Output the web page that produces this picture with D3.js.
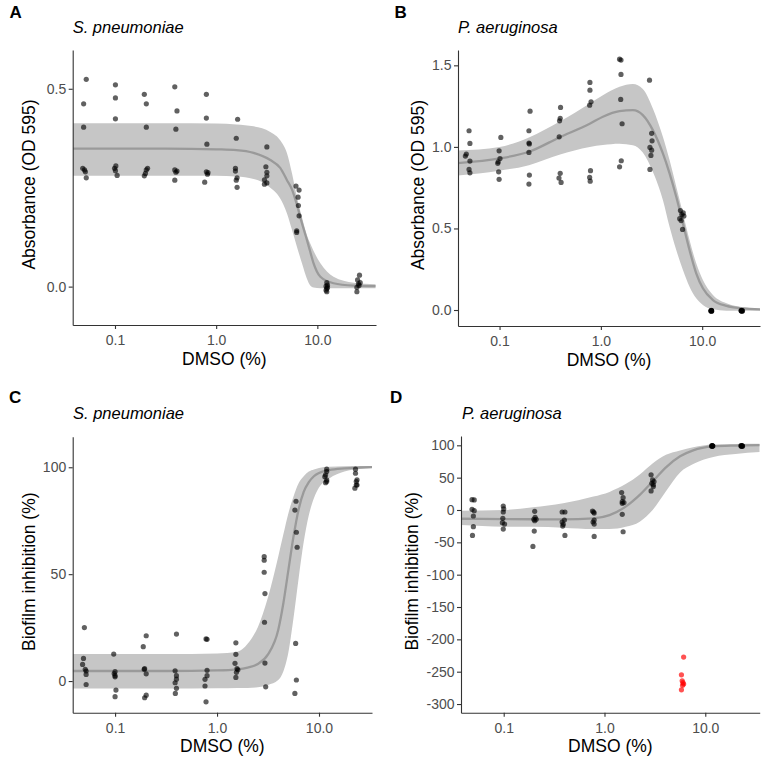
<!DOCTYPE html>
<html><head><meta charset="utf-8">
<script src="https://cdn.jsdelivr.net/npm/d3@7"></script>
<style>
body{margin:0;background:#fff}
text{font-family:"Liberation Sans",Arial,Helvetica,sans-serif}
</style>
</head><body>
<svg id="chart" width="764" height="759"></svg>
<script>
// ---------------- DATA ----------------
const xTickValues = [0.1, 1, 10];
const xTickLabels = ["0.1", "1.0", "10.0"];

const yTicksA = [0, 0.5];           const yTickLabelsA = ["0.0", "0.5"];
const yTicksB = [0, 0.5, 1, 1.5];   const yTickLabelsB = ["0.0", "0.5", "1.0", "1.5"];
const yTicksC = [0, 50, 100];       const yTickLabelsC = ["0", "50", "100"];
const yTicksD = [100, 50, 0, -50, -100, -150, -200, -250, -300];
const yTickLabelsD = ["100", "50", "0", "-50", "-100", "-150", "-200", "-250", "-300"];

const panelTags = ["A", "B", "C", "D"];
const organisms = ["S. pneumoniae", "P. aeruginosa", "S. pneumoniae", "P. aeruginosa"];
const yTitles = ["Absorbance (OD 595)", "Absorbance (OD 595)", "Biofilm inhibition (%)", "Biofilm inhibition (%)"];
const xTitle = "DMSO (%)";

// observations: [DMSO %, value]
const pointsA = [
 [0.052,0.524],[0.049,0.462],[0.049,0.403],[0.048,0.299],[0.050,0.295],[0.051,0.290],[0.052,0.275],
 [0.101,0.510],[0.101,0.477],[0.101,0.424],[0.102,0.305],[0.099,0.299],[0.101,0.293],[0.105,0.281],
 [0.195,0.486],[0.204,0.462],[0.204,0.403],[0.210,0.299],[0.204,0.295],[0.200,0.286],[0.195,0.280],
 [0.39,0.505],[0.41,0.444],[0.40,0.398],[0.39,0.295],[0.41,0.292],[0.40,0.289],[0.39,0.269],
 [0.80,0.486],[0.80,0.426],[0.81,0.360],[0.80,0.290],[0.83,0.288],[0.82,0.284],[0.77,0.264],
 [1.63,0.423],[1.58,0.375],[1.55,0.299],[1.55,0.292],[1.61,0.275],[1.58,0.269],[1.61,0.251],
 [3.17,0.353],[3.10,0.303],[3.17,0.289],[3.17,0.280],[3.00,0.270],[3.17,0.262],[3.00,0.259],
 [6.15,0.254],[6.6,0.244],[6.45,0.226],[6.5,0.205],[6.6,0.179],[6.25,0.141],[6.25,0.137],
 [12.4,0.010],[12.6,0.004],[12.2,0.001],[12.6,-0.002],[12.4,-0.005],[12.2,-0.009],[12.4,-0.013],
 [26.1,0.029],[25.0,0.017],[26.5,0.010],[25.5,0.007],[24.6,-0.002],[24.6,-0.013],[25.8,0.003]
];
const pointsB = [
 [0.050,1.099],[0.051,1.021],[0.047,0.956],[0.046,0.944],[0.051,0.913],[0.050,0.862],[0.051,0.841],
 [0.103,1.058],[0.099,0.976],[0.101,0.929],[0.097,0.909],[0.096,0.899],[0.098,0.847],[0.099,0.801],
 [0.200,1.219],[0.195,1.099],[0.195,1.024],[0.197,1.018],[0.195,0.966],[0.197,0.827],[0.195,0.772],
 [0.40,1.242],[0.397,1.175],[0.391,1.160],[0.388,1.062],[0.397,0.838],[0.386,0.809],[0.405,0.782],
 [0.78,1.395],[0.78,1.348],[0.80,1.276],[0.775,1.256],[0.79,0.854],[0.775,0.813],[0.785,0.790],
 [1.53,1.538],[1.58,1.532],[1.58,1.444],[1.57,1.291],[1.62,1.142],[1.59,0.915],[1.53,0.878],
 [3.02,1.409],[3.17,1.083],[3.20,1.037],[3.05,0.997],[3.17,0.980],[3.12,0.948],[3.05,0.862],
 [6.1,0.610],[6.5,0.595],[6.3,0.585],[6.6,0.576],[6.0,0.560],[6.2,0.548],[6.4,0.494],
 [12.3,-0.002],[12.4,-0.004],[12.2,-0.005],[12.3,-0.006],[12.4,-0.007],[12.3,-0.003],[12.2,-0.006],
 [24.2,-0.003],[24.6,-0.005],[25.0,-0.004],[24.4,-0.006],[24.8,-0.007],[24.5,-0.002],[24.3,-0.005]
];
const pointsC = [
 [0.050,25.0],[0.049,10.6],[0.048,7.8],[0.051,5.5],[0.052,4.7],[0.052,3.1],[0.052,-1.6],
 [0.097,12.6],[0.100,4.4],[0.098,3.5],[0.100,2.5],[0.100,2.0],[0.102,-4.2],[0.100,-7.3],
 [0.202,21.2],[0.189,16.1],[0.195,5.8],[0.193,5.5],[0.202,3.4],[0.202,-6.6],[0.195,-7.8],
 [0.40,22.0],[0.388,4.8],[0.40,2.5],[0.40,0.9],[0.388,-0.8],[0.40,-3.4],[0.39,-5.8],
 [0.78,19.7],[0.798,19.5],[0.798,5.0],[0.798,2.5],[0.762,0.8],[0.762,-2.3],[0.78,-9.7],
 [1.53,17.9],[1.53,12.5],[1.50,8.3],[1.57,5.8],[1.60,5.3],[1.55,4.1],[1.53,1.7],
 [2.90,58.2],[2.90,56.5],[2.90,50.9],[2.95,40.9],[2.92,27.5],[2.95,8.4],[3.00,-2.7],
 [5.95,84.1],[5.80,80.0],[6.00,69.6],[6.10,62.6],[5.90,17.6],[6.00,0.5],[5.80,-5.8],
 [11.9,99.1],[11.9,98.0],[11.6,96.4],[11.4,95.6],[11.9,94.1],[11.9,93.3],[11.6,92.8],
 [22.8,99.1],[22.8,97.2],[23.6,94.1],[23.2,93.3],[23.2,91.7],[23.6,91.7],[22.5,90.2]
];
const pointsD = [
 [0.0485,16.0],[0.051,15.5],[0.0485,1.0],[0.051,-1.0],[0.050,-9.3],[0.050,-25.8],[0.049,-39.3],
 [0.099,6.2],[0.100,1.6],[0.099,-3.1],[0.098,-12.9],[0.097,-19.6],[0.102,-21.7],[0.099,-29.5],
 [0.203,-2.1],[0.205,-11.4],[0.199,-14.5],[0.210,-14.5],[0.203,-16.5],[0.201,-32.6],[0.195,-56.3],
 [0.38,-3.1],[0.405,-3.1],[0.40,-15.5],[0.38,-18.6],[0.39,-22.2],[0.385,-24.8],[0.405,-39.3],
 [0.76,-1.6],[0.78,-3.1],[0.79,-4.7],[0.79,-15.5],[0.77,-18.6],[0.79,-21.7],[0.79,-40.8],
 [1.48,26.9],[1.53,19.1],[1.50,12.9],[1.56,11.4],[1.50,10.3],[1.50,-6.7],[1.53,-33.6],
 [2.90,54.3],[3.00,46.5],[3.10,43.9],[2.95,41.3],[3.05,39.0],[3.05,36.2],[2.90,29.5],
 [11.6,99.5],[11.8,99.2],[11.7,99.0],[11.9,98.8],[11.6,98.5],[11.8,99.3],[11.7,98.9],
 [22.6,99.4],[23.2,99.2],[22.9,98.9],[23.4,98.6],[22.7,99.0],[23.0,98.7],[23.3,99.3]
];
// excluded outliers (red) in panel D
const outliersD = [[6.1,-227.4],[5.8,-254.8],[5.9,-264],[6.0,-267],[6.1,-269],[5.95,-271],[5.8,-278]];

// fitted dose-response curves with confidence band
const fitDoseA = [0.0385,0.316,1.0,1.585,2.344,3.428,4.295,5.012,5.623,6.281,7.047,7.889,8.511,9.183,10.72,14.45,22.91,37.58];
const fitMeanA = [0.349,0.349,0.347,0.345,0.338,0.320,0.300,0.269,0.245,0.207,0.160,0.118,0.088,0.059,0.025,0.0085,0.0025,0.001];
const fitHighA = [0.413,0.413,0.412,0.410,0.405,0.391,0.370,0.337,0.286,0.227,0.175,0.130,0.109,0.090,0.059,0.025,0.010,0.006];
const fitLowA  = [0.280,0.280,0.280,0.278,0.272,0.250,0.223,0.185,0.143,0.101,0.059,0.020,0.003,-0.002,-0.004,-0.004,-0.004,-0.004];

const fitDoseB = [0.0385,0.1,0.195,0.389,0.776,1.047,1.528,2.070,2.594,3.258,4.093,4.764,5.546,6.457,7.499,8.730,10.16,12.76,17.38,25.12,37.58];
const fitMeanB = [0.900,0.929,0.970,1.058,1.142,1.185,1.219,1.225,1.195,1.103,0.960,0.838,0.694,0.531,0.368,0.225,0.133,0.061,0.025,0.010,0.004];
const fitHighB = [0.978,1.000,1.058,1.154,1.266,1.317,1.368,1.385,1.355,1.236,1.062,0.919,0.756,0.592,0.429,0.286,0.184,0.092,0.041,0.017,0.008];
const fitLowB  = [0.824,0.854,0.888,0.952,1.000,1.012,1.020,1.010,0.965,0.848,0.674,0.510,0.368,0.245,0.143,0.072,0.031,0.004,-0.004,-0.004,-0.004];

const fitDoseC = [0.0385,0.316,1.0,1.585,1.995,2.512,3.162,3.981,4.467,5.012,5.623,6.310,7.079,7.943,8.913,10.0,12.59,17.78,25.12,33.11];
const fitMeanC = [4.7,4.7,5.0,5.5,6.3,8.0,12.5,23.9,36.3,52.0,67.6,80.3,88.5,93.0,95.8,97.3,98.7,99.5,99.9,100.1];
const fitHighC = [12.6,12.6,12.9,13.7,17.4,25.2,39.2,58.2,68.5,78.5,86.3,92.5,95.8,98.0,99.0,99.7,100.2,100.5,100.6,100.6];
const fitLowC  = [-3.5,-3.5,-3.4,-3.3,-3.2,-2.9,-1.8,0.5,4.5,13.5,29.5,48.0,65.0,77.5,85.5,90.5,94.8,98.0,99.3,99.7];

const fitDoseD = [0.0377,0.1,0.195,0.389,0.776,1.122,1.622,2.239,3.020,4.074,5.623,7.586,12.02,19.95,34.67];
const fitMeanD = [-13.5,-14.0,-14.3,-14.5,-13.0,-8.0,5.2,23.3,44.5,66.0,83.0,92.2,98.2,99.6,100.3];
const fitHighD = [-1.0,0.0,4.1,10.3,20.7,28.0,40.0,55.0,72.4,85.3,92.0,97.2,101.3,102.0,102.3];
const fitLowD  = [-23.3,-25.8,-25.8,-27.4,-29.5,-29.5,-26.0,-18.0,0.5,29.0,58.0,71.0,82.0,86.5,89.5];

// ---------------- LAYOUT / DRAWING ----------------
const svg = d3.select("#chart");
const AXIS_COL = "#333333", TICK_TXT = "#4d4d4d";

const panels = [
  {tag:0, box:{l:72.7,r:376,t:50,b:325}, xDom:[0.0382,38.0], yDom:[-0.097,0.598],
   yTicks:yTicksA, yLabels:yTickLabelsA, pts:pointsA, red:[], fit:[fitDoseA,fitMeanA,fitLowA,fitHighA],
   tagXY:[9.5,18.3], titleXY:[72.7,33.3], yTitleX:35},
  {tag:1, box:{l:458,r:760,t:50,b:326}, xDom:[0.0389,37.2], yDom:[-0.098,1.594],
   yTicks:yTicksB, yLabels:yTickLabelsB, pts:pointsB, red:[], fit:[fitDoseB,fitMeanB,fitLowB,fitHighB],
   tagXY:[394.5,18.3], titleXY:[458,33.3], yTitleX:424},
  {tag:2, box:{l:72.7,r:372,t:436.7,b:712.7}, xDom:[0.0384,33.1], yDom:[-14.8,114.3],
   yTicks:yTicksC, yLabels:yTickLabelsC, pts:pointsC, red:[], fit:[fitDoseC,fitMeanC,fitLowC,fitHighC],
   tagXY:[9,402.7], titleXY:[73,419], yTitleX:34.5},
  {tag:3, box:{l:461,r:759.7,t:436,b:712.7}, xDom:[0.0377,34.67], yDom:[-313.4,114.4],
   yTicks:yTicksD, yLabels:yTickLabelsD, pts:pointsD, red:outliersD, fit:[fitDoseD,fitMeanD,fitLowD,fitHighD],
   tagXY:[390,402.7], titleXY:[462,419], yTitleX:418}
];

panels.forEach((p, pi) => {
  const b = p.box;
  const x = d3.scaleLog().domain(p.xDom).range([b.l, b.r]);
  const y = d3.scaleLinear().domain(p.yDom).range([b.b, b.t]);
  const g = svg.append("g");

  const clipId = "clip" + pi;
  g.append("clipPath").attr("id", clipId)
    .append("rect").attr("x", b.l).attr("y", b.t).attr("width", b.r - b.l).attr("height", b.b - b.t);

  const [fd, fm, flo, fhi] = p.fit;
  const fitRows = fd.map((d, i) => ({d, m: fm[i], lo: flo[i], hi: fhi[i]}));
  const plot = g.append("g").attr("clip-path", `url(#${clipId})`);

  plot.append("path").datum(fitRows)
    .attr("d", d3.area().x(r => x(r.d)).y0(r => y(r.lo)).y1(r => y(r.hi)).curve(d3.curveMonotoneX))
    .attr("fill", "#c6c6c6");
  plot.append("path").datum(fitRows)
    .attr("d", d3.line().x(r => x(r.d)).y(r => y(r.m)).curve(d3.curveMonotoneX))
    .attr("fill", "none").attr("stroke", "#9a9a9a").attr("stroke-width", 2.3);

  plot.selectAll("circle.pt").data(p.pts).join("circle").attr("class", "pt")
    .attr("cx", d => x(d[0])).attr("cy", d => y(d[1])).attr("r", 2.6)
    .attr("fill", "#000").attr("fill-opacity", 0.62);
  plot.selectAll("circle.red").data(p.red).join("circle").attr("class", "red")
    .attr("cx", d => x(d[0])).attr("cy", d => y(d[1])).attr("r", 2.6)
    .attr("fill", "#ff0000").attr("fill-opacity", 0.68);

  // axes
  const xa = g.append("g").attr("transform", `translate(0,${b.b})`)
    .call(d3.axisBottom(x).tickValues(xTickValues).tickFormat((d, i) => xTickLabels[i])
      .tickSize(4).tickSizeOuter(0).tickPadding(3));
  const ya = g.append("g").attr("transform", `translate(${b.l},0)`)
    .call(d3.axisLeft(y).tickValues(p.yTicks).tickFormat((d, i) => p.yLabels[i])
      .tickSize(4).tickSizeOuter(0).tickPadding(2.5));
  [xa, ya].forEach(a => {
    a.select(".domain").attr("stroke", AXIS_COL).attr("stroke-width", 1.1);
    a.selectAll(".tick line").attr("stroke", AXIS_COL).attr("stroke-width", 1.1);
    a.selectAll(".tick text").attr("fill", TICK_TXT).style("font-size", "14px")
      .style("font-family", '"Liberation Sans",Arial,Helvetica,sans-serif');
  });
  xa.selectAll(".tick text").attr("dy", null).attr("y", 20);

  // titles
  g.append("text").attr("x", p.tagXY[0]).attr("y", p.tagXY[1])
    .style("font-size", "17px").style("font-weight", "bold").attr("fill", "#000").text(panelTags[p.tag]);
  g.append("text").attr("x", p.titleXY[0]).attr("y", p.titleXY[1])
    .style("font-size", "16.5px").style("font-style", "italic").attr("fill", "#000").text(organisms[p.tag]);
  g.append("text").attr("x", (b.l + b.r) / 2).attr("y", b.b + 39.5).attr("text-anchor", "middle")
    .style("font-size", "17.5px").attr("fill", "#000").text(xTitle);
  g.append("text").attr("transform", `translate(${p.yTitleX},${(b.t + b.b) / 2 - 3}) rotate(-90)`)
    .attr("text-anchor", "middle").style("font-size", "17.5px").attr("fill", "#000").text(yTitles[p.tag]);
});
</script>
</body></html>
